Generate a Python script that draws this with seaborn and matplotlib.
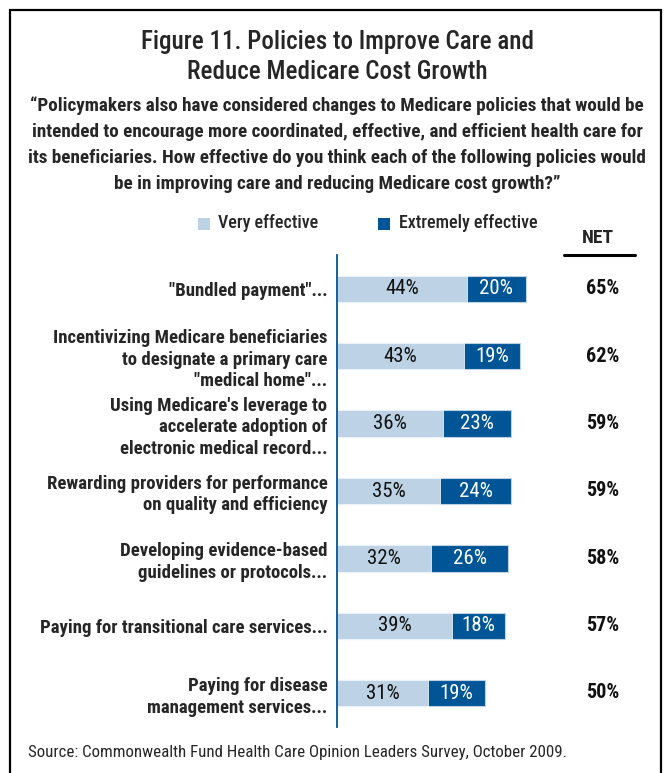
import matplotlib
matplotlib.use("Agg")
import matplotlib.pyplot as plt
import seaborn as sns
import pandas as pd
from matplotlib.patches import Rectangle
from matplotlib.lines import Line2D

categories = [
    '"Bundled payment"...',
    'Incentivizing Medicare beneficiaries\nto designate a primary care\n"medical home"...',
    "Using Medicare's leverage to\naccelerate adoption of\nelectronic medical record...",
    'Rewarding providers for performance\non quality and efficiency',
    'Developing evidence-based\nguidelines or protocols...',
    'Paying for transitional care services...',
    'Paying for disease\nmanagement services...',
]
very_effective = [44, 43, 36, 35, 32, 39, 31]
extremely_effective = [20, 19, 23, 24, 26, 18, 19]
net = [65, 62, 59, 59, 58, 57, 50]

LIGHT = "#BDD3E5"
DARK = "#005596"

sns.set_theme(style="white")
FAM = ["Roboto Condensed", "Liberation Sans Narrow", "DejaVu Sans"]
plt.rcParams["font.family"] = FAM

W, H = 667, 773
fig = plt.figure(figsize=(W / 100, H / 100), dpi=100)
fig.patch.set_facecolor("white")

def fx(x):
    return x / W

def fy(y):
    return 1 - y / H

# frame
fig.add_artist(Rectangle((fx(10), fy(790)), fx(651), 780 / H, transform=fig.transFigure,
                         fill=False, edgecolor="black", linewidth=1.6))

ax = fig.add_axes([fx(337), fy(727), fx(295), (727 - 255) / H])

df = pd.DataFrame({"cat": categories, "very": very_effective, "extreme": extremely_effective})
df["total"] = df["very"] + df["extreme"]

sns.barplot(data=df, y="cat", x="total", color=DARK, orient="h", width=0.39,
            ax=ax, saturation=1, edgecolor=LIGHT, linewidth=0.8)
sns.barplot(data=df, y="cat", x="very", color=LIGHT, orient="h", width=0.39,
            ax=ax, saturation=1, edgecolor="white", linewidth=0.5)

ax.set_xlim(0, 100)
ax.set_ylim(6.5, -0.5)
ax.set_xlabel("")
ax.set_ylabel("")
ax.set_xticks([])
ax.set_yticks(range(len(categories)))
ax.set_yticklabels(categories, fontsize=13.5, fontweight="bold", linespacing=1.25,
                   family=FAM)
ax.tick_params(axis="y", length=0, pad=7)
for s in ["top", "right", "bottom"]:
    ax.spines[s].set_visible(False)
ax.spines["left"].set_color(DARK)
ax.spines["left"].set_linewidth(1.3)

for i, (v, e, n) in enumerate(zip(very_effective, extremely_effective, net)):
    ax.text(v / 2, i, f"{v}%", ha="center", va="center", fontsize=15, color="#111111", family=FAM)
    ax.text(v + e / 2, i, f"{e}%", ha="center", va="center", fontsize=15, color="white", family=FAM)
    fig.text(fx(603), fy(289 + i * 67.3), f"{n}%", ha="center", va="center",
             fontsize=14.5, fontweight="bold", color="#111111", family=FAM)

# NET header
fig.text(fx(598), fy(238), "NET", ha="center", va="center", fontsize=14,
         fontweight="bold", family=FAM)
fig.add_artist(Line2D([fx(564), fx(635)], [fy(255), fy(255)], transform=fig.transFigure,
                      color="black", linewidth=2.2))

# legend
fig.add_artist(Rectangle((fx(198), fy(230)), fx(12), 12 / H, transform=fig.transFigure,
                         facecolor=LIGHT, edgecolor="none"))
fig.text(fx(218), fy(223), "Very effective", ha="left", va="center", fontsize=13,
         fontweight="medium", family=FAM)
fig.add_artist(Rectangle((fx(378), fy(230)), fx(12), 12 / H, transform=fig.transFigure,
                         facecolor=DARK, edgecolor="none"))
fig.text(fx(399), fy(223), "Extremely effective", ha="left", va="center", fontsize=13,
         fontweight="medium", family=FAM)

# titles
fig.text(fx(337), fy(42), "Figure 11. Policies to Improve Care and", ha="center", va="center",
         fontsize=18, fontweight="medium", family=FAM)
fig.text(fx(337), fy(72), "Reduce Medicare Cost Growth", ha="center", va="center",
         fontsize=18, fontweight="medium", family=FAM)
sub = ["\u201cPolicymakers also have considered changes to Medicare policies that would be",
       "intended to encourage more coordinated, effective, and efficient health care for",
       "its beneficiaries. How effective do you think each of the following policies would",
       "be in improving care and reducing Medicare cost growth?\u201d"]
for k, line in enumerate(sub):
    fig.text(fx(337), fy(106 + k * 26), line, ha="center", va="center", fontsize=13.8,
             fontweight="bold", family=FAM)

fig.text(fx(28), fy(753), "Source: Commonwealth Fund Health Care Opinion Leaders Survey, October 2009.",
         ha="left", va="center", fontsize=12.2, family=FAM)

fig.savefig("out.png", dpi=100, facecolor="white")
